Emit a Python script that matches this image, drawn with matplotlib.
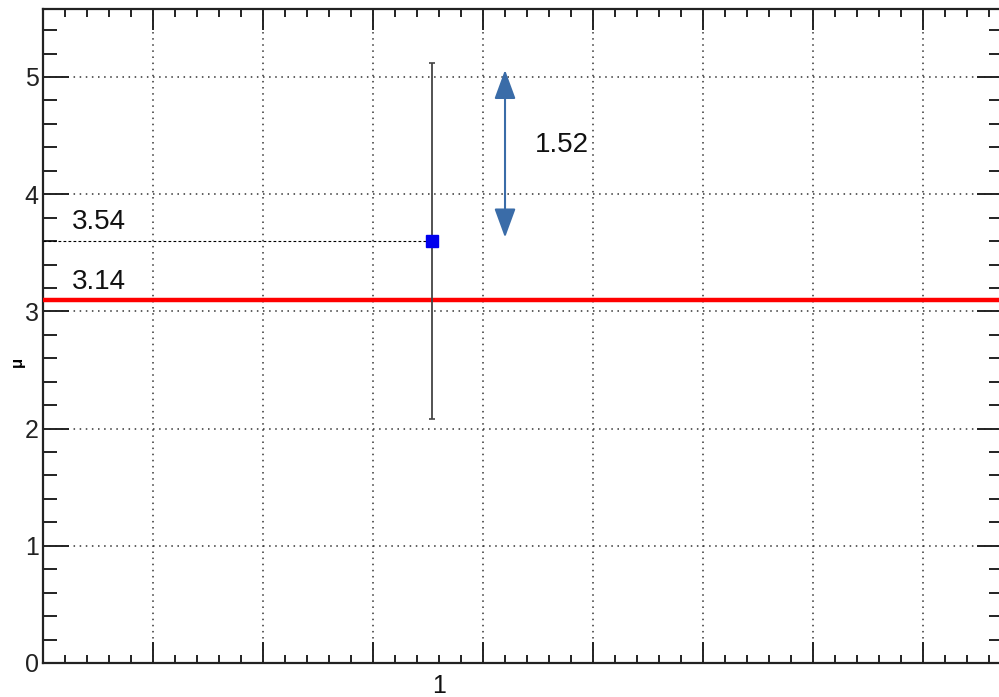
import numpy as np
import matplotlib
matplotlib.use('Agg')
import matplotlib.pyplot as plt
from matplotlib.ticker import MultipleLocator, NullFormatter

plt.rcParams['font.family'] = ['Liberation Sans', 'DejaVu Sans']

# measured point (x position, value, error)
point_x = [3.54]
point_y = [3.6]
point_err = [1.52]
ref_value = 3.1          # red reference line
arrow_x = 4.2
arrow_y = [3.63, 5.06]
bin_label = '1'
bin_label_x = 3.6
texts = [('3.54', 0.26, 3.76), ('3.14', 0.26, 3.25), ('1.52', 4.47, 4.42)]

fig = plt.figure(figsize=(9.99, 6.97), dpi=100)
ax = fig.add_axes([43 / 999, 34 / 697, 960 / 999, 654 / 697])
ax.set_xlim(0, 8.727)
ax.set_ylim(0, 5.58)

ax.xaxis.set_major_locator(MultipleLocator(1))
ax.xaxis.set_minor_locator(MultipleLocator(0.2))
ax.yaxis.set_major_locator(MultipleLocator(1))
ax.yaxis.set_minor_locator(MultipleLocator(0.2))
ax.xaxis.set_major_formatter(NullFormatter())

ax.grid(True, which='major', color='#333333', linestyle=(0, (1, 3)), linewidth=1.1)
ax.set_axisbelow(True)

ax.tick_params(which='both', direction='in', top=True, right=True, width=1.4, colors='#222222')
ax.tick_params(axis='y', which='major', length=19, labelsize=18, pad=3)
ax.tick_params(axis='y', which='minor', length=10)
ax.tick_params(axis='x', which='major', length=15)
ax.tick_params(axis='x', which='minor', length=6)
for s in ax.spines.values():
    s.set_linewidth(1.6)
    s.set_color('#222222')

ax.axhline(ref_value, color='red', linewidth=3.2, zorder=3)

ax.plot([0, point_x[0]], [point_y[0], point_y[0]], color='black', linewidth=0.8,
        linestyle=(0, (2.5, 2)), zorder=3)

ax.errorbar(point_x, point_y, yerr=point_err, fmt='s', color='#0000ee', markersize=8,
            ecolor='#444444', elinewidth=1.3, capsize=2.5, capthick=1.2, zorder=4)

ax.annotate('', xy=(arrow_x, arrow_y[1]), xytext=(arrow_x, arrow_y[0]),
            arrowprops=dict(arrowstyle='<|-|>,head_length=0.9,head_width=0.33',
                            mutation_scale=20, color='#3a6ca8', lw=1.5,
                            shrinkA=0, shrinkB=0), zorder=5)

for t, x, y in texts:
    ax.text(x, y, t, fontsize=20, ha='left', va='center', color='#111111')

ax.text(bin_label_x, -0.255, bin_label, fontsize=18, ha='center', va='baseline', color='#111111')
fig.text(17 / 999, 1 - 362 / 697, 'μ', fontsize=12, fontweight='bold', rotation=90,
         ha='center', va='center')

plt.savefig('out.png', dpi=100)
